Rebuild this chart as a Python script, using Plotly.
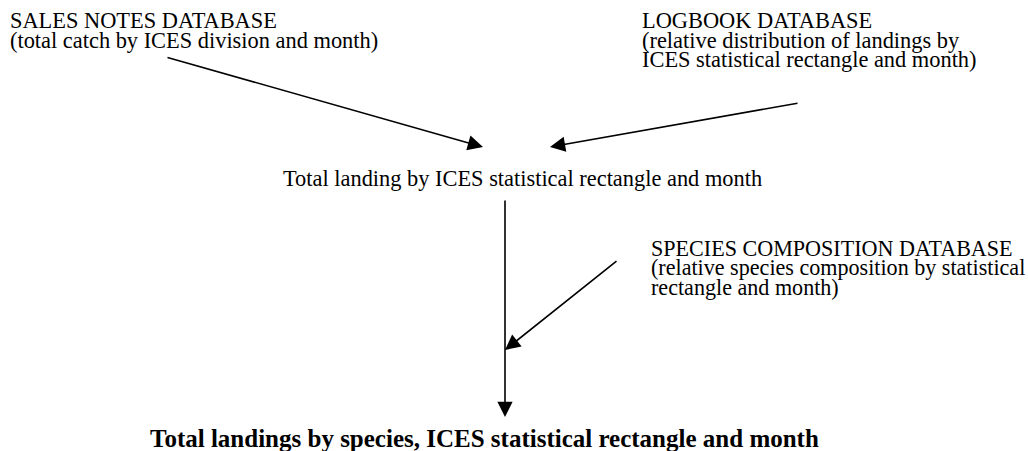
import plotly.graph_objects as go

# ---- diagram content ----
sales_lines = ["SALES NOTES DATABASE", "(total catch by ICES division and month)"]
logbook_lines = ["LOGBOOK DATABASE", "(relative distribution of landings by",
                 "ICES statistical rectangle and month)"]
species_lines = ["SPECIES COMPOSITION DATABASE",
                 "(relative species composition by statistical",
                 "rectangle and month)"]
middle_text = "Total landing by ICES statistical rectangle and month"
final_text = "<b>Total landings by species, ICES statistical rectangle and month</b>"

# block anchor positions (left x, first-line centre y) in pixel space
sales_pos = (8, 20.5)
logbook_pos = (640, 20.5)
species_pos = (649, 248)
middle_pos = (522.5, 178.4)
final_pos = (484, 438.6)
line_step = 19.5

# arrows: (tail x, tail y, tip x, tip y)
arrow_tail_x = [166, 799, 505, 618]
arrow_tail_y = [57, 103, 199, 260]
arrow_tip_x = [483, 550, 505, 505]
arrow_tip_y = [147, 147, 417, 350]

W, H = 1028, 451
FONT = "Liberation Serif"
fs = 22.4

fig = go.Figure()
fig.add_trace(go.Scatter(x=[0, W], y=[0, H], mode="markers",
                         marker=dict(opacity=0), hoverinfo="skip", showlegend=False))

anns = []

def block(lines, pos, size=fs):
    for i, t in enumerate(lines):
        anns.append(dict(x=pos[0], y=pos[1] + i * line_step, text=t, showarrow=False,
                         xanchor="left", yanchor="middle", xref="x", yref="y",
                         font=dict(family=FONT, size=size, color="black")))

block(sales_lines, sales_pos)
block(logbook_lines, logbook_pos)
block(species_lines, species_pos, 22.1)
anns.append(dict(x=middle_pos[0], y=middle_pos[1], text=middle_text, showarrow=False,
                 xanchor="center", yanchor="middle",
                 font=dict(family=FONT, size=fs, color="black")))
anns.append(dict(x=final_pos[0], y=final_pos[1], text=final_text, showarrow=False,
                 xanchor="center", yanchor="middle",
                 font=dict(family=FONT, size=25, color="black")))

for tx, ty, hx, hy in zip(arrow_tail_x, arrow_tail_y, arrow_tip_x, arrow_tip_y):
    anns.append(dict(x=hx, y=hy, ax=tx, ay=ty, xref="x", yref="y", axref="x", ayref="y",
                     text="", showarrow=True, arrowhead=2, arrowsize=1.9, arrowwidth=1.6,
                     arrowcolor="black", standoff=0, startstandoff=0))

fig.update_layout(
    width=W, height=H, margin=dict(l=0, r=0, t=0, b=0),
    paper_bgcolor="white", plot_bgcolor="white",
    xaxis=dict(range=[0, W], visible=False, fixedrange=True),
    yaxis=dict(range=[H, 0], visible=False, fixedrange=True),
    annotations=anns, showlegend=False,
)

fig.write_html("out.html", config={"displayModeBar": False},
               post_script="document.body.style.margin='0px';document.body.style.overflow='hidden';")
